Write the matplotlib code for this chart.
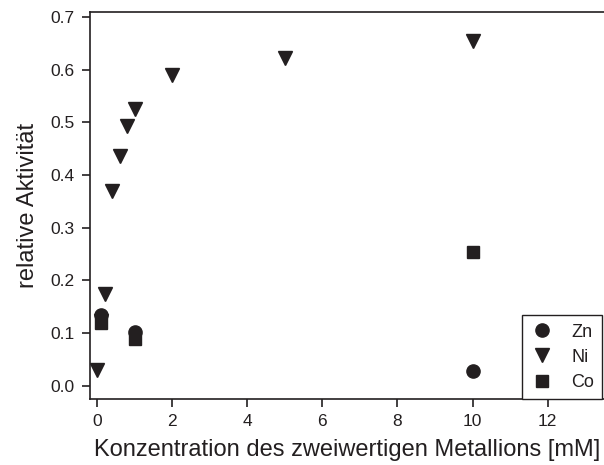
import matplotlib.pyplot as plt
import numpy as np

plt.rcParams['font.family'] = ['Liberation Sans', 'DejaVu Sans']

col = '#231f20'

zn_x = [0.1, 1.0, 10.0]
zn_y = [0.135, 0.103, 0.028]

ni_x = [0.0, 0.1, 0.2, 0.4, 0.6, 0.8, 1.0, 2.0, 5.0, 10.0]
ni_y = [0.030, 0.122, 0.175, 0.370, 0.436, 0.492, 0.526, 0.590, 0.622, 0.655]

co_x = [0.1, 1.0, 10.0]
co_y = [0.120, 0.088, 0.253]

fig = plt.figure(figsize=(6.04, 4.65), dpi=100)
ax = fig.add_axes([0.149, 0.142, 0.851, 0.832])

ax.plot(ni_x, ni_y, 'v', color=col, markersize=10, label='Ni', zorder=2)
ax.plot(co_x, co_y, 's', color=col, markersize=8, label='Co', zorder=3)
ax.plot(zn_x, zn_y, 'o', color=col, markersize=9.5, label='Zn', zorder=4)

ax.set_xlim(-0.19, 13.5)
ax.set_ylim(-0.025, 0.709)
ax.set_xticks(np.arange(0, 13, 2))
ax.set_yticks(np.arange(0, 0.71, 0.1))
ax.set_yticklabels(['%.1f' % v for v in np.arange(0, 0.71, 0.1)])

for s in ['left', 'bottom', 'top']:
    ax.spines[s].set_color(col)
    ax.spines[s].set_linewidth(1.2)
ax.spines['right'].set_visible(False)
ax.tick_params(direction='out', length=6, width=1.2, colors=col, labelsize=12.5,
               labelcolor=col, pad=5)

ax.set_xlabel('Konzentration des zweiwertigen Metallions [mM]', fontsize=17, color=col, labelpad=7)
ax.set_ylabel('relative Aktivität', fontsize=17, color=col, labelpad=8)

h, l = ax.get_legend_handles_labels()
order = [2, 0, 1]
leg = ax.legend([h[i] for i in order], [l[i] for i in order], loc='lower left',
                bbox_to_anchor=(0.84, 0.0), borderaxespad=0, fancybox=False,
                edgecolor=col, fontsize=13, handletextpad=1.0, handlelength=1.3,
                borderpad=0.45, labelspacing=0.45, framealpha=1)
leg.get_frame().set_linewidth(1.0)
for t in leg.get_texts():
    t.set_color(col)

fig.savefig('out.png', dpi=100)
